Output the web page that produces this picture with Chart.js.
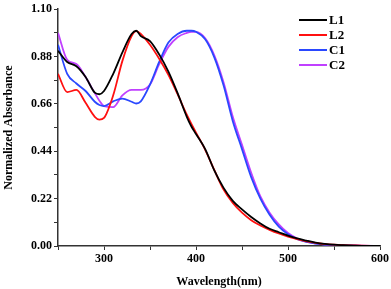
<!DOCTYPE html>
<html>
<head>
<meta charset="utf-8">
<script src="https://cdn.jsdelivr.net/npm/chart.js@4/dist/chart.umd.min.js"></script>
<style>
  html, body { margin: 0; padding: 0; background: #fff; }
  #wrap { width: 391px; height: 289px; position: relative; }
</style>
</head>
<body>
<div id="wrap"><canvas id="chart"></canvas></div>
<script>
// Wavelength grid (nm) shared by all four spectra.
const wavelengths = [250, 260, 270, 280, 290, 295, 300, 310, 320, 330, 335, 340, 350, 360, 370,
  380, 390, 395, 400, 410, 420, 430, 440, 450, 460, 470, 480, 490, 500, 510, 520, 530, 540,
  550, 560, 580, 600];

const seriesNames = ["L1", "L2", "C1", "C2"];

const L1 = [0.907, 0.855, 0.835, 0.785, 0.712, 0.705, 0.72, 0.80, 0.90, 0.985, 1.0, 0.975, 0.952,
  0.89, 0.81, 0.71, 0.60, 0.555, 0.52, 0.45, 0.35, 0.27, 0.21, 0.17, 0.135, 0.105, 0.08, 0.064,
  0.048, 0.035, 0.025, 0.016, 0.01, 0.006, 0.004, 0.001, 0.0];
const L2 = [0.80, 0.715, 0.725, 0.665, 0.60, 0.587, 0.595, 0.70, 0.86, 0.975, 0.998, 0.985, 0.935,
  0.87, 0.795, 0.705, 0.61, 0.567, 0.527, 0.447, 0.352, 0.262, 0.20, 0.155, 0.12, 0.095, 0.075,
  0.058, 0.044, 0.032, 0.022, 0.015, 0.009, 0.006, 0.004, 0.002, 0.0];
const C1 = [0.935, 0.80, 0.755, 0.72, 0.67, 0.655, 0.65, 0.672, 0.685, 0.67, 0.662, 0.672, 0.75,
  0.855, 0.945, 0.985, 1.0, 1.0, 0.995, 0.96, 0.875, 0.745, 0.58, 0.45, 0.32, 0.22, 0.145, 0.09,
  0.055, 0.032, 0.019, 0.011, 0.006, 0.004, 0.002, 0.001, 0.0];
const C2 = [0.99, 0.865, 0.845, 0.785, 0.71, 0.675, 0.65, 0.645, 0.70, 0.725, 0.725, 0.725, 0.75,
  0.845, 0.925, 0.97, 0.99, 0.995, 0.995, 0.965, 0.885, 0.76, 0.60, 0.47, 0.34, 0.23, 0.155, 0.10,
  0.06, 0.035, 0.02, 0.012, 0.007, 0.004, 0.003, 0.002, 0.0];

const seriesValues = [L1, L2, C1, C2];
const seriesColors = ["#000000", "#ff1010", "#2a48ff", "#c040ff"];

// Y ticks every 0.11, labelled every 0.22; X ticks every 50, labelled every 100.
const yMin = 0, yMax = 1.1, yStep = 0.11;
const xMin = 250, xMax = 600, xStep = 50;

const FONT = "'Liberation Serif', 'Times New Roman', serif";

// Legend drawn inside the plot, top right, like the original figure.
const innerLegend = {
  id: "innerLegend",
  afterDraw(chart) {
    const ctx = chart.ctx;
    ctx.save();
    ctx.font = "bold 13px " + FONT;
    ctx.textBaseline = "middle";
    chart.data.datasets.forEach((ds, i) => {
      const y = 20 + i * 15;
      ctx.strokeStyle = ds.borderColor;
      ctx.lineWidth = 2;
      ctx.beginPath();
      ctx.moveTo(299, y);
      ctx.lineTo(327, y);
      ctx.stroke();
      ctx.fillStyle = "#000";
      ctx.fillText(ds.label, 329, y + 1);
    });
    ctx.restore();
  },
};

new Chart(document.getElementById("chart"), {
  type: "line",
  data: {
    labels: wavelengths,
    datasets: seriesNames.map((name, i) => ({
      label: name,
      data: wavelengths.map((w, j) => ({ x: w, y: seriesValues[i][j] })),
      borderColor: seriesColors[i],
      backgroundColor: seriesColors[i],
      borderWidth: 1.8,
      pointRadius: 0,
      cubicInterpolationMode: "monotone",
      fill: false,
    })),
  },
  options: {
    responsive: true,
    maintainAspectRatio: false,
    animation: false,
    layout: { padding: { top: 6, right: 11, left: 0, bottom: 0 } },
    plugins: { legend: { display: false }, tooltip: { enabled: false } },
    scales: {
      x: {
        type: "linear",
        min: xMin,
        max: xMax,
        afterFit: (s) => { s.height = 43; },
        border: { display: true, color: "#333", width: 1.5 },
        grid: { display: true, drawOnChartArea: false, drawTicks: true, tickLength: 4, tickColor: "#333" },
        ticks: {
          stepSize: xStep,
          autoSkip: false,
          maxRotation: 0,
          color: "#000",
          padding: 2,
          font: { family: FONT, size: 12, weight: "bold" },
          callback: (v) => (v % 100 === 0 ? String(v) : ""),
        },
        title: {
          display: true,
          text: "Wavelength(nm)",
          color: "#000",
          padding: { top: 6, bottom: 0 },
          font: { family: FONT, size: 12, weight: "bold" },
        },
      },
      y: {
        min: yMin,
        max: yMax,
        afterFit: (s) => { s.width = 58; },
        border: { display: true, color: "#333", width: 1.5 },
        grid: { display: true, drawOnChartArea: false, drawTicks: true, tickLength: 4, tickColor: "#333" },
        ticks: {
          stepSize: yStep,
          autoSkip: false,
          color: "#000",
          padding: 2,
          font: { family: FONT, size: 12, weight: "bold" },
          callback: (v, i) => (i % 2 === 0 ? Number(v).toFixed(2) : ""),
        },
        title: {
          display: true,
          text: "Normalized Absorbance",
          color: "#000",
          padding: { top: 2, bottom: 0 },
          font: { family: FONT, size: 12, weight: "bold" },
        },
      },
    },
  },
  plugins: [innerLegend],
});
</script>
</body>
</html>
